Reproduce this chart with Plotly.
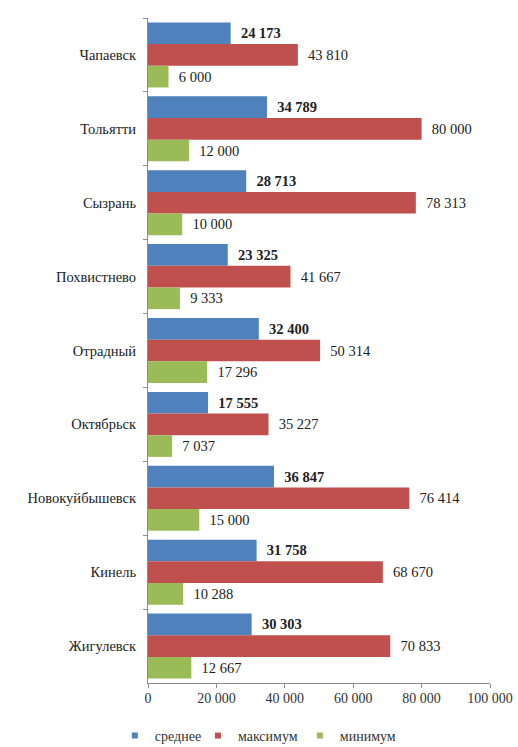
import plotly.graph_objects as go

cities = ["Чапаевск", "Тольятти", "Сызрань", "Похвистнево", "Отрадный",
          "Октябрьск", "Новокуйбышевск", "Кинель", "Жигулевск"]
avg_vals = [24173, 34789, 28713, 23325, 32400, 17555, 36847, 31758, 30303]
max_vals = [43810, 80000, 78313, 41667, 50314, 35227, 76414, 68670, 70833]
min_vals = [6000, 12000, 10000, 9333, 17296, 7037, 15000, 10288, 12667]
x_ticks = [0, 20000, 40000, 60000, 80000, 100000]
x_tick_labels = ["0", "20 000", "40 000", "60 000", "80 000", "100 000"]


def fmt(v):
    return f"{v:,}".replace(",", " ")


FONT = "Times New Roman, Liberation Serif, Tinos, DejaVu Serif, serif"
PAD = "\u00a0\u00a0"

series = [
    ("среднее", avg_vals, "#4F81BD", True),
    ("максимум", max_vals, "#C0504D", False),
    ("минимум", min_vals, "#9BBB59", False),
]
legend_x = [-0.097, 0.146, 0.444]

fig = go.Figure()
for i, (name, vals, color, bold) in enumerate(series):
    texts = [PAD + (("<b>%s</b>" % fmt(v)) if bold else fmt(v)) for v in vals]
    lg = "legend" if i == 0 else "legend%d" % (i + 1)
    fig.add_trace(go.Bar(
        name=name, y=cities, x=vals, orientation="h",
        marker=dict(color=color, line=dict(width=0)),
        text=texts, textposition="outside", cliponaxis=False,
        constraintext="none",
        textfont=dict(family=FONT, size=14.5, color="#222222"),
        hoverinfo="x+y", showlegend=False,
    ))
    fig.add_trace(go.Scatter(
        name=name, x=[None], y=[None], mode="markers",
        marker=dict(symbol="square", size=6, color=color),
        legend=lg, showlegend=True, hoverinfo="skip",
    ))

legend_common = dict(orientation="h", xanchor="left", y=-0.0797, yanchor="middle",
                     font=dict(family=FONT, size=14, color="#333333"),
                     itemwidth=30, itemsizing="trace", bgcolor="rgba(0,0,0,0)")

fig.update_layout(
    template="none",
    width=518, height=747,
    barmode="group", bargap=0.12, bargroupgap=0,
    paper_bgcolor="white", plot_bgcolor="white",
    margin=dict(l=148, r=28, t=18, b=64, autoexpand=False),
    font=dict(family=FONT, size=14, color="#222222"),
    showlegend=True,
    legend=dict(x=legend_x[0], **legend_common),
    legend2=dict(x=legend_x[1], **legend_common),
    legend3=dict(x=legend_x[2], **legend_common),
)
fig.update_xaxes(
    range=[0, 100000], tickvals=x_ticks, ticktext=x_tick_labels,
    showgrid=False, zeroline=False, showline=True, linecolor="#8c8c8c",
    ticks="outside", ticklen=4, tickcolor="#8c8c8c", automargin=False,
    ticklabelstandoff=-2,
    tickfont=dict(family=FONT, size=14, color="#333333"),
)
fig.update_yaxes(
    autorange="reversed", showgrid=False, showline=True, linecolor="#8c8c8c",
    ticks="outside", ticklen=4, tickcolor="#8c8c8c", tickson="boundaries",
    automargin=False, ticklabelstandoff=8,
    tickfont=dict(family=FONT, size=14.5, color="#222222"),
)

fig.write_html("out.html", config={"displayModeBar": False},
               post_script="document.body.style.margin='0';document.body.style.padding='0';")
